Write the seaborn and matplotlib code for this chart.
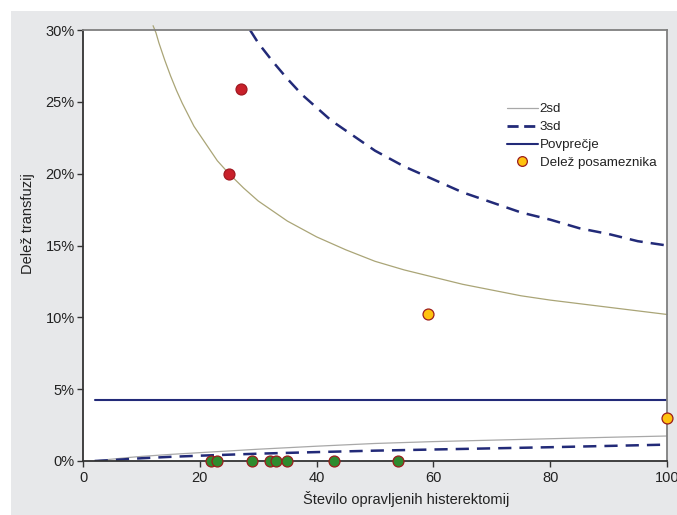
import numpy as np
import matplotlib
matplotlib.use('Agg')
import matplotlib.pyplot as plt
from matplotlib.patches import Rectangle
from matplotlib.lines import Line2D
from matplotlib.ticker import PercentFormatter
import seaborn as sns

# povprečje
mean_p = 0.0424
mean_n = [2, 100]

# zgornja meja 2sd (odčitano s slike)
up2_n = [12, 12.5, 13, 14, 15, 16, 17, 18, 19, 20, 21, 22, 23, 25, 27.5, 30,
         32.5, 35, 40, 45, 50, 55, 60, 65, 70, 75, 80, 90, 100]
up2_p = [0.303, 0.298, 0.291, 0.279, 0.268, 0.258, 0.249, 0.241, 0.233, 0.227,
         0.221, 0.215, 0.209, 0.200, 0.190, 0.181, 0.174, 0.167, 0.156, 0.147,
         0.139, 0.133, 0.128, 0.123, 0.119, 0.115, 0.112, 0.107, 0.102]

# zgornja meja 3sd
up3_n = [28.6, 30, 32.5, 35, 37.5, 40, 42.5, 45, 50, 55, 60, 65, 70, 75, 80,
         85, 90, 95, 100]
up3_p = [0.300, 0.291, 0.278, 0.266, 0.255, 0.246, 0.237, 0.230, 0.216, 0.205,
         0.196, 0.187, 0.180, 0.173, 0.168, 0.162, 0.158, 0.153, 0.150]

# spodnji meji
lo2_n = [2, 3, 4, 6, 8, 10, 15, 20, 30, 40, 50, 60, 70, 80, 90, 100]
lo2_p = [0.0, 0.0005, 0.0009, 0.0017, 0.0025, 0.0032, 0.0046, 0.0058, 0.0082,
         0.0103, 0.0122, 0.0135, 0.0145, 0.0155, 0.0165, 0.0174]
lo3_n = [2, 3, 4, 6, 8, 10, 15, 20, 30, 40, 50, 60, 70, 80, 90, 100]
lo3_p = [0.0, 0.0002, 0.0004, 0.0009, 0.0014, 0.0019, 0.0029, 0.0037, 0.0051,
         0.0062, 0.0072, 0.0080, 0.0088, 0.0096, 0.0105, 0.0114]

# posamezniki
red_n = [27, 25]
red_p = [0.259, 0.200]
orange_n = [59, 100]
orange_p = [0.102, 0.030]
green_n = [22, 23, 29, 32, 33, 35, 43, 54]
green_p = [0, 0, 0, 0, 0, 0, 0, 0]

sns.set_theme(style='white')
plt.rcParams['font.family'] = ['Liberation Sans', 'DejaVu Sans']
plt.rcParams['lines.scale_dashes'] = False

navy = '#222a78'
dash = (9.5, 5.8)
fig = plt.figure(figsize=(6.77, 5.15), dpi=100)
fig.patch.set_facecolor('white')
bg = Rectangle((11 / 677, 0), 1, (515 - 11) / 515, transform=fig.transFigure,
               facecolor='#e7e8ea', edgecolor='none', zorder=-10)
fig.add_artist(bg)
ax = fig.add_axes([83 / 677, 54 / 515, 584 / 677, 431 / 515])
ax.set_zorder(1)
ax.set_facecolor('white')

sns.lineplot(x=up2_n, y=up2_p, ax=ax, color='#aaa577', linewidth=0.9)
ax.lines[-1].set_clip_on(False)
sns.lineplot(x=lo2_n, y=lo2_p, ax=ax, color='#a8a8a8', linewidth=0.9)
sns.lineplot(x=up3_n, y=up3_p, ax=ax, color=navy, linewidth=1.8)
ax.lines[-1].set_dashes(dash)
sns.lineplot(x=lo3_n, y=lo3_p, ax=ax, color=navy, linewidth=1.8)
ax.lines[-1].set_dashes(dash)
sns.lineplot(x=mean_n, y=[mean_p] * len(mean_n), ax=ax, color=navy, linewidth=1.5)

edge = '#9b1c1c'
sns.scatterplot(x=green_n, y=green_p, ax=ax, color='#2e8b2e', edgecolor=edge,
                linewidth=0.9, s=62, clip_on=False, zorder=5)
sns.scatterplot(x=red_n, y=red_p, ax=ax, color='#c8202a', edgecolor='#a01820',
                linewidth=0.9, s=62, clip_on=False, zorder=5)
sns.scatterplot(x=orange_n, y=orange_p, ax=ax, color='#ffc20e', edgecolor=edge,
                linewidth=0.9, s=62, clip_on=False, zorder=5)

ax.set_xlim(0, 100)
ax.set_ylim(0, 0.30)
ax.set_xticks(np.arange(0, 101, 20))
ax.set_yticks(np.arange(0, 0.301, 0.05))
ax.yaxis.set_major_formatter(PercentFormatter(1.0, decimals=0))
ax.tick_params(axis='both', which='major', direction='out', length=4, width=1,
               color='#333333', labelsize=10.5, labelcolor='#222222', pad=2)
ax.tick_params(axis='x', bottom=True, pad=3)
ax.tick_params(axis='y', left=True)

for side in ['left', 'bottom']:
    ax.spines[side].set_color('#333333')
    ax.spines[side].set_linewidth(1.3)
for side in ['top', 'right']:
    ax.spines[side].set_color('#7f7f7f')
    ax.spines[side].set_linewidth(1.3)

ax.set_xlabel('Število opravljenih histerektomij', fontsize=10.5, color='#222222')
ax.set_ylabel('Delež transfuzij', fontsize=10.5, color='#222222')
ax.xaxis.set_label_coords((406 - 83) / 584, -30 / 431)
ax.yaxis.set_label_coords(-48 / 584, (461 - 224) / 431)

handles = [
    Line2D([], [], color='#a8a8a8', linewidth=0.9),
    Line2D([], [], color=navy, linewidth=2.0, dashes=(8.0, 4.0)),
    Line2D([], [], color=navy, linewidth=1.5),
    Line2D([], [], linestyle='none', marker='o', markersize=7.0,
           markerfacecolor='#ffc20e', markeredgecolor=edge, markeredgewidth=0.9),
]
labels = ['2sd', '3sd', 'Povprečje', 'Delež posameznika']
leg = ax.legend(handles, labels, loc='upper left',
                bbox_to_anchor=((507 - 83) / 584, (461 - 103) / 431),
                frameon=False, fontsize=9.6, handlelength=2.3, handletextpad=0.15,
                labelspacing=0.42, borderpad=0, borderaxespad=0)
for t in leg.get_texts():
    t.set_color('#222222')

fig.savefig('out.png', dpi=100)
